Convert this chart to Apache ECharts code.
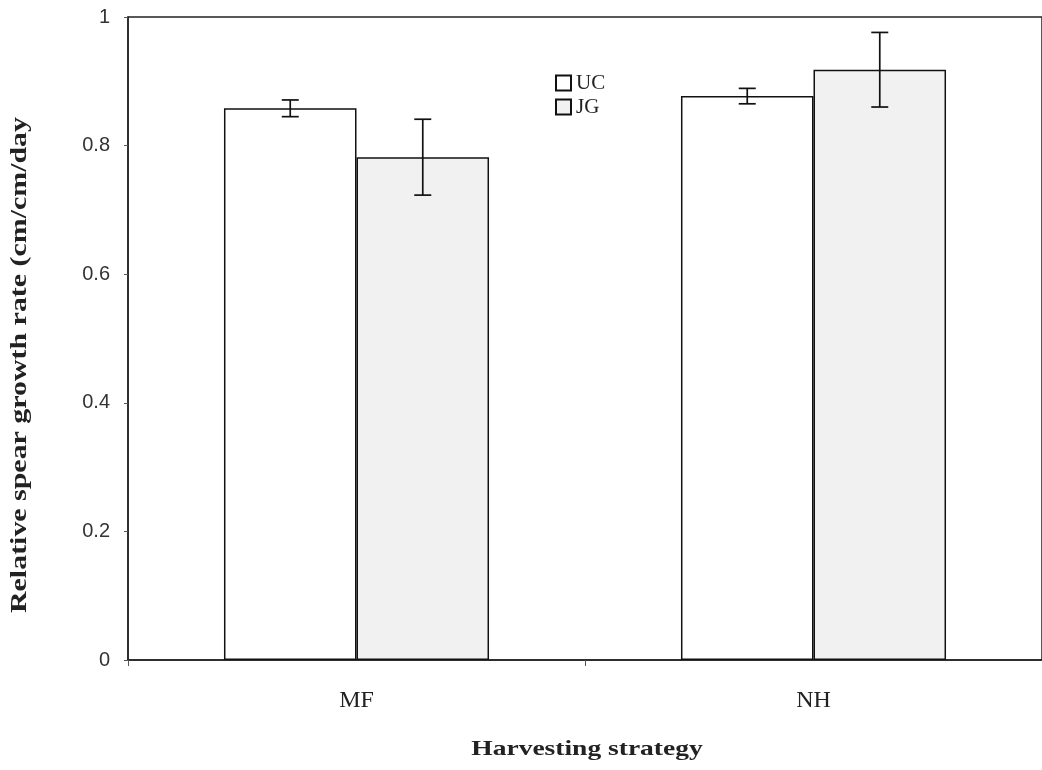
<!DOCTYPE html>
<html><head><meta charset="utf-8">
<script src="https://cdn.jsdelivr.net/npm/echarts@6/dist/echarts.min.js"></script>
<style>html,body{margin:0;padding:0;background:#fff}#c{width:1042px;height:770px}</style>
</head><body><div id="c"></div>
<script>
const categories = ['MF', 'NH'];
const seriesNames = ['UC', 'JG'];
const ucValues = [0.858, 0.877];
const ucErrors = [0.013, 0.012];
const jgValues = [0.782, 0.918];
const jgErrors = [0.059, 0.058];
const yTicks = [0, 0.2, 0.4, 0.6, 0.8, 1];
const xTitle = 'Harvesting strategy';
const yTitle = 'Relative spear growth rate (cm/cm/day';

const chart = echarts.init(document.getElementById('c'));
const gapPct = 0.42;
const serif = '"Liberation Serif","Times New Roman",serif';

function errSeries(values, errors, side) {
  return {
    type: 'custom',
    z: 5,
    silent: true,
    data: values.map((v, i) => [i, v, errors[i]]),
    renderItem: function (params, api) {
      const i = api.value(0), v = api.value(1), e = api.value(2);
      const catW = api.size([1, 0])[0];
      const bw = catW * (1 - gapPct) / 2;
      const c = api.coord([i, v]);
      const x = c[0] + side * bw / 2;
      const top = api.coord([i, v + e])[1];
      const bot = api.coord([i, v - e])[1];
      const cap = 8.5;
      const st = { stroke: '#111', lineWidth: 1.7 };
      return { type: 'group', children: [
        { type: 'line', shape: { x1: x, y1: top, x2: x, y2: bot }, style: st },
        { type: 'line', shape: { x1: x - cap, y1: top, x2: x + cap, y2: top }, style: st },
        { type: 'line', shape: { x1: x - cap, y1: bot, x2: x + cap, y2: bot }, style: st }
      ]};
    }
  };
}

chart.setOption({
  animation: false,
  backgroundColor: '#fff',
  grid: { left: 128, right: -4, top: 17, bottom: 110, show: true, borderColor: '#222', borderWidth: 1.5, backgroundColor: 'transparent' },
  legend: {
    orient: 'vertical', left: 550, top: 67, itemWidth: 15, itemHeight: 15, itemGap: 2,
    icon: 'rect',
    textStyle: { fontFamily: serif, fontSize: 21, color: '#222', lineHeight: 22, padding: [0, 0, 0, 0] },
    data: seriesNames
  },
  xAxis: {
    type: 'category', data: categories,
    axisLine: { lineStyle: { color: '#222', width: 1.5 } },
    axisTick: { show: true, length: 6, lineStyle: { color: '#555' } },
    axisLabel: { fontFamily: serif, fontSize: 24, color: '#222', margin: 29 }
  },
  yAxis: {
    type: 'value', min: yTicks[0], max: yTicks[yTicks.length - 1], interval: 0.2,
    axisLine: { show: true, lineStyle: { color: '#222', width: 1.5 } },
    axisTick: { show: true, length: 4, lineStyle: { color: '#555' } },
    splitLine: { show: false },
    axisLabel: { fontFamily: '"Liberation Sans",Arial,sans-serif', fontSize: 20, color: '#333', margin: 18 }
  },
  graphic: [{
    type: 'text', x: 20, y: 365, rotation: Math.PI / 2, scaleX: 1.3,
    style: { text: yTitle, fontFamily: serif, fontSize: 23, fontWeight: 'bold', fill: '#222', align: 'center', verticalAlign: 'middle' }
  }, {
    type: 'text', x: 587, y: 749, scaleX: 1.25,
    style: { text: xTitle, fontFamily: serif, fontSize: 22, fontWeight: 'bold', fill: '#222', align: 'center', verticalAlign: 'middle' }
  }],
  series: [
    { name: 'UC', type: 'bar', data: ucValues, barGap: '0%', barCategoryGap: '42%',
      itemStyle: { color: '#ffffff', borderColor: '#111', borderWidth: 1.5 } },
    { name: 'JG', type: 'bar', data: jgValues, barGap: '0%', barCategoryGap: '42%',
      itemStyle: { color: '#f1f1f1', borderColor: '#111', borderWidth: 1.5 } },
    errSeries(ucValues, ucErrors, -1),
    errSeries(jgValues, jgErrors, 1)
  ]
});
</script></body></html>
